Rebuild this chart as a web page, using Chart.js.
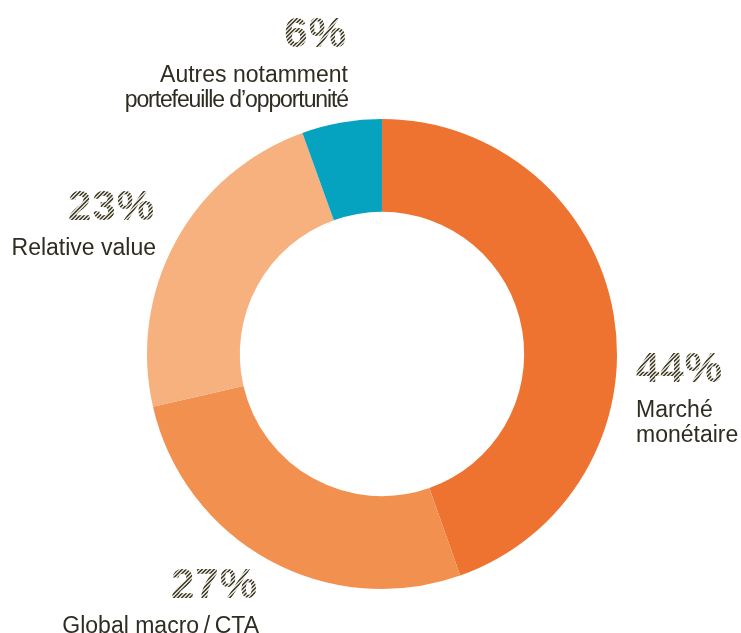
<!DOCTYPE html>
<html>
<head>
<meta charset="utf-8">
<script src="https://cdn.jsdelivr.net/npm/chart.js@4/dist/chart.umd.min.js"></script>
<style>
  html, body { margin: 0; padding: 0; background: #ffffff; }
  #wrap { width: 741px; height: 633px; position: relative; }
</style>
</head>
<body>
<div id="wrap"><canvas id="c" width="741" height="633"></canvas></div>
<script>
// ---- data ----
const categories = ["Marché monétaire", "Global macro/CTA", "Relative value", "Autres notamment portefeuille d’opportunité"];
const labelLines = [["Marché", "monétaire"], ["Global macro\u2009/\u2009CTA"], ["Relative value"], ["Autres notamment", "portefeuille d’opportunité"]];
// slice sizes (labels show the rounded shares)
const values = [44.6, 26.8, 23.1, 5.5];
const percentLabels = ["44%", "27%", "23%", "6%"];
const colors = ["#EE7330", "#F2914F", "#F7B17E", "#05A3BF"];

// label placement relative to doughnut centre (style only)
const labelStyle = [
  { align: "left",  dx: 254,  dy: 28,   tight: [0, 0] },
  { align: "right", dx: -125, dy: 244,  tight: [0] },
  { align: "right", dx: -228, dy: -134, tight: [0] },
  { align: "right", dx: -36,  dy: -307, tight: [0, -1.1] }
];

function hatchPattern(ctx) {
  const n = 4;
  const p = document.createElement("canvas");
  p.width = n; p.height = n;
  const g = p.getContext("2d");
  g.fillStyle = "#dcd9cb";
  g.fillRect(0, 0, n, n);
  g.fillStyle = "#4a473b";
  for (let x = 0; x < n; x++) {
    for (let y = 0; y < n; y++) {
      const k = (x + y) % n;
      if (k === 2 || k === 3) g.fillRect(x, y, 1, 1);
    }
  }
  return ctx.createPattern(p, "repeat");
}

const labelPlugin = {
  id: "donutLabels",
  afterDraw(chart) {
    const ctx = chart.ctx;
    const arc = chart.getDatasetMeta(0).data[0];
    const cx = arc.x, cy = arc.y;
    const pat = hatchPattern(ctx);
    ctx.save();
    percentLabels.forEach((txt, i) => {
      const s = labelStyle[i];
      const x = cx + s.dx;
      let y = cy + s.dy;
      ctx.textAlign = s.align;
      ctx.textBaseline = "alphabetic";
      ctx.font = "bold 42px 'Liberation Sans', Arial, sans-serif";
      ctx.letterSpacing = "1px";
      ctx.fillStyle = pat;
      ctx.fillText(txt, x + (s.align === "right" ? 1 : 0), y);
      ctx.font = "23px 'Liberation Sans', Arial, sans-serif";
      ctx.fillStyle = "#2f2c22";
      y += 35;
      labelLines[i].forEach((ln, k) => {
        ctx.letterSpacing = (s.tight[k] || 0) + "px";
        ctx.fillText(ln, x + (s.align === "right" ? 2 : 0), y + k * 25);
      });
    });
    ctx.restore();
  }
};

new Chart(document.getElementById("c"), {
  type: "doughnut",
  data: {
    labels: categories,
    datasets: [{
      data: values,
      backgroundColor: colors,
      borderWidth: 0,
      hoverOffset: 0
    }]
  },
  options: {
    responsive: false,
    animation: false,
    cutout: "60.5%",
    rotation: 0,
    layout: { padding: { left: 147, right: 124, top: 119, bottom: 44 } },
    plugins: {
      legend: { display: false },
      tooltip: { enabled: false }
    }
  },
  plugins: [labelPlugin]
});
</script>
</body>
</html>
